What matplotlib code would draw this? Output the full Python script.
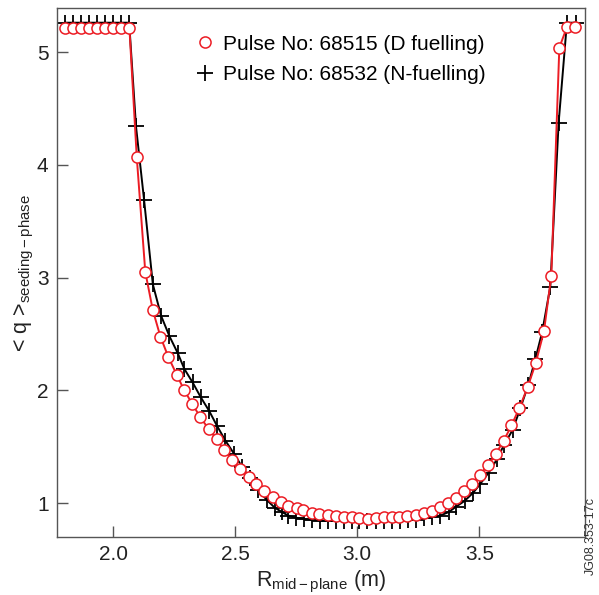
import matplotlib

matplotlib.use("Agg")
import matplotlib.pyplot as plt

plt.rcParams["font.family"] = ["Liberation Sans", "DejaVu Sans"]
plt.rcParams["mathtext.fontset"] = "custom"
plt.rcParams["mathtext.rm"] = "Liberation Sans"
plt.rcParams["mathtext.it"] = "Liberation Sans:italic"

# Pulse 68515 (D fuelling), red open circles
R_D = [1.802, 1.835, 1.868, 1.902, 1.934, 1.968, 2.001, 2.034, 2.067,
       2.097, 2.132, 2.163, 2.194, 2.227, 2.261, 2.291, 2.325, 2.358,
       2.391, 2.425, 2.456, 2.489, 2.520, 2.555, 2.587, 2.620, 2.655,
       2.687, 2.718, 2.753, 2.780, 2.814, 2.845, 2.880, 2.913, 2.944,
       2.978, 3.009, 3.044, 3.078, 3.108, 3.142, 3.173, 3.206, 3.242,
       3.272, 3.306, 3.340, 3.372, 3.403, 3.436, 3.470, 3.501, 3.536,
       3.567, 3.600, 3.632, 3.664, 3.698, 3.731, 3.765, 3.795, 3.828,
       3.859, 3.893]
Q_D = [5.21, 5.21, 5.21, 5.21, 5.21, 5.21, 5.21, 5.21, 5.21,
       4.07, 3.05, 2.71, 2.476, 2.293, 2.138, 2.003, 1.878, 1.760,
       1.659, 1.565, 1.470, 1.382, 1.299, 1.231, 1.166, 1.106, 1.056,
       1.009, 0.973, 0.953, 0.938, 0.917, 0.905, 0.891, 0.885, 0.878,
       0.873, 0.864, 0.861, 0.870, 0.876, 0.878, 0.878, 0.882, 0.891,
       0.909, 0.932, 0.962, 1.000, 1.050, 1.104, 1.171, 1.251, 1.335,
       1.435, 1.553, 1.689, 1.843, 2.027, 2.240, 2.524, 3.014, 5.04,
       5.22, 5.22]

# Pulse 68532 (N fuelling), black plus markers
R_N = [1.803, 1.836, 1.869, 1.902, 1.934, 1.967, 2.000, 2.033, 2.066,
       2.094, 2.127, 2.163, 2.197, 2.231, 2.265, 2.292, 2.326, 2.359,
       2.393, 2.426, 2.460, 2.495, 2.529, 2.561, 2.594, 2.629, 2.662,
       2.693, 2.717, 2.750, 2.782, 2.814, 2.846, 2.880, 2.914, 2.945,
       2.978, 3.009, 3.042, 3.077, 3.109, 3.141, 3.176, 3.208, 3.242,
       3.272, 3.306, 3.340, 3.374, 3.406, 3.440, 3.474, 3.504, 3.538,
       3.573, 3.602, 3.637, 3.668, 3.701, 3.730, 3.758, 3.791, 3.825,
       3.859, 3.895]
Q_N = [5.26, 5.26, 5.26, 5.26, 5.26, 5.26, 5.26, 5.26, 5.26,
       4.34, 3.69, 2.94, 2.66, 2.48, 2.33, 2.19, 2.07, 1.94,
       1.82, 1.685, 1.555, 1.44, 1.32, 1.22, 1.12, 1.03, 0.96,
       0.92, 0.89, 0.87, 0.86, 0.85, 0.845, 0.845, 0.845, 0.845,
       0.845, 0.845, 0.845, 0.845, 0.845, 0.845, 0.845, 0.85, 0.855,
       0.865, 0.875, 0.89, 0.92, 0.97, 1.02, 1.09, 1.17, 1.27,
       1.39, 1.52, 1.65, 1.84, 2.05, 2.28, 2.52, 2.92, 4.37,
       5.26, 5.26]

X_TICKS = [2.0, 2.5, 3.0, 3.5]
Y_TICKS = [1, 2, 3, 4, 5]
RED = "#ec1c24"
FRAME = "#555555"
TEXT = "#222222"


def main():
    fig = plt.figure(figsize=(5.99, 5.95), dpi=100)
    ax = fig.add_axes([0.095, 0.0975, 0.882, 0.889])

    ax.plot(R_N, Q_N, color="black", lw=1.4, marker="+", ms=12, mew=1.3,
            label="Pulse No: 68532 (N-fuelling)", zorder=2)
    ax.plot(R_D, Q_D, color=RED, lw=1.4, marker="o", ms=8, mew=1.1,
            mfc="white", mec=RED, label="Pulse No: 68515 (D fuelling)", zorder=3)

    ax.set_xlim(1.77, 3.934)
    ax.set_ylim(0.70, 5.39)
    ax.set_xticks(X_TICKS)
    ax.set_xticklabels([f"{v:.1f}" for v in X_TICKS])
    ax.set_yticks(Y_TICKS)

    for side in ["top", "right", "left", "bottom"]:
        ax.spines[side].set_color(FRAME)
        ax.spines[side].set_linewidth(1.0)
    ax.tick_params(direction="in", length=8, width=1.0, color=FRAME,
                   labelsize=15, labelcolor=TEXT, pad=6)

    ax.set_xlabel(r"R$_{\mathrm{mid-plane}}$ (m)", fontsize=15.5, color=TEXT, labelpad=3)
    ax.set_ylabel(r"< q >$_{\mathrm{seeding-phase}}$", fontsize=15.5, color=TEXT, labelpad=1)

    handles, labels = ax.get_legend_handles_labels()
    leg = ax.legend(handles[::-1], labels[::-1], loc="upper left",
                    bbox_to_anchor=(0.227, 0.985), frameon=False, fontsize=15,
                    handlelength=0.9, handletextpad=0.4, labelspacing=0.55)
    for line in leg.get_lines():
        line.set_linestyle("none")

    fig.text(0.987, 0.165, "JG08.353-17c", rotation=90, fontsize=9,
             color="#333333", ha="center", va="top")

    fig.savefig("out.png", dpi=100)
    plt.close(fig)


if __name__ == "__main__":
    main()
